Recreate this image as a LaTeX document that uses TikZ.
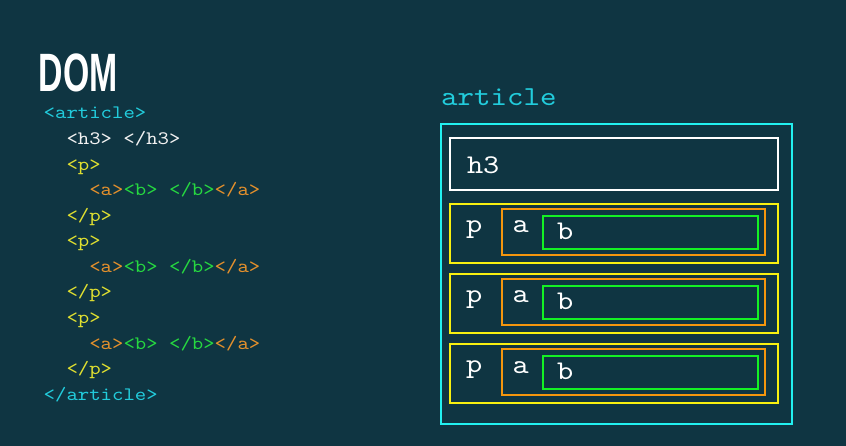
\documentclass[tikz,border=0pt]{standalone}
\usepackage{fontspec}
\newfontfamily\codefont{lmmono10-regular.otf}[FakeStretch=1.143]
\newfontfamily\domfont[FakeStretch=0.626]{Liberation Sans}
\definecolor{bg}{HTML}{0F3542}
\definecolor{ccyan}{HTML}{22CCDC}
\definecolor{cyanbox}{HTML}{22F0F0}
\definecolor{cyellow}{HTML}{E0E030}
\definecolor{ybox}{HTML}{F8F010}
\definecolor{corange}{HTML}{E4902C}
\definecolor{obox}{HTML}{F4960E}
\definecolor{cgreen}{HTML}{26D840}
\definecolor{gbox}{HTML}{14F024}
\definecolor{cwhite}{HTML}{F2F2F2}
\tikzset{
  codeline/.style={anchor=base west, inner sep=0pt, font=\codefont\fontsize{19}{19}\selectfont},
  boxlabel/.style={anchor=base west, inner sep=0pt, text=white, font=\codefont\fontsize{27}{27}\selectfont},
  framebox/.style={draw, line width=2.2pt, inner sep=0pt, fill=none},
}
\newcommand{\aline}{\textcolor{corange}{<a>}\textcolor{cgreen}{<b> </b>}\textcolor{corange}{</a>}}
\begin{document}
\begin{tikzpicture}[x=1pt,y=-1pt]
\fill[bg] (0,0) rectangle (846,446);
\useasboundingbox (0,0) rectangle (846,446);

% title
\node[anchor=base west, inner sep=0pt, text=white, font=\domfont\bfseries\fontsize{54}{54}\selectfont] (title) at (38.5,91.5) {DOM};

% code listing
\node[codeline, text=ccyan]   (c0)  at (43.5,119)   {<article>};
\node[codeline, text=cwhite]  (c1)  at (66.3,144.5) {<h3> </h3>};
\node[codeline, text=cyellow] (c2)  at (66.3,170.1) {<p>};
\node[codeline]               (c3)  at (89.1,195.6) {\aline};
\node[codeline, text=cyellow] (c4)  at (66.3,221.2) {</p>};
\node[codeline, text=cyellow] (c5)  at (66.3,246.7) {<p>};
\node[codeline]               (c6)  at (89.1,272.3) {\aline};
\node[codeline, text=cyellow] (c7)  at (66.3,297.8) {</p>};
\node[codeline, text=cyellow] (c8)  at (66.3,323.4) {<p>};
\node[codeline]               (c9)  at (89.1,349.0) {\aline};
\node[codeline, text=cyellow] (c10) at (66.3,374.5) {</p>};
\node[codeline, text=ccyan]   (c11) at (43.5,400.0) {</article>};

% box diagram
\node[boxlabel, text=ccyan, font=\codefont\fontsize{27.5}{27.5}\selectfont] (artlabel) at (440.8,106) {article};
\node[framebox, draw=cyanbox, minimum width=351pt, minimum height=300pt] (article) at (616.5,274) {};
\node[framebox, draw=white, minimum width=327.7pt, minimum height=52pt] (h3) at (613.85,163.7) {};
\node[boxlabel] (h3label) at (466.8,173.3) {h3};
\foreach \i/\t in {1/204.3, 2/274.3, 3/344.3} {
  \node[framebox, draw=ybox, minimum width=327.7pt, minimum height=59pt] (p\i) at (613.85,\t+29.5) {};
  \node[framebox, draw=obox, minimum width=263pt, minimum height=46.2pt] (a\i) at (633.5,\t+27.6) {};
  \node[framebox, draw=gbox, minimum width=214.4pt, minimum height=33pt] (b\i) at (650.5,\t+28.2) {};
  \node[boxlabel] (plabel\i) at (466,\t+28.5) {p};
  \node[boxlabel] (alabel\i) at (512.5,\t+28.7) {a};
  \node[boxlabel] (blabel\i) at (557,\t+35) {b};
}
\end{tikzpicture}
\end{document}
